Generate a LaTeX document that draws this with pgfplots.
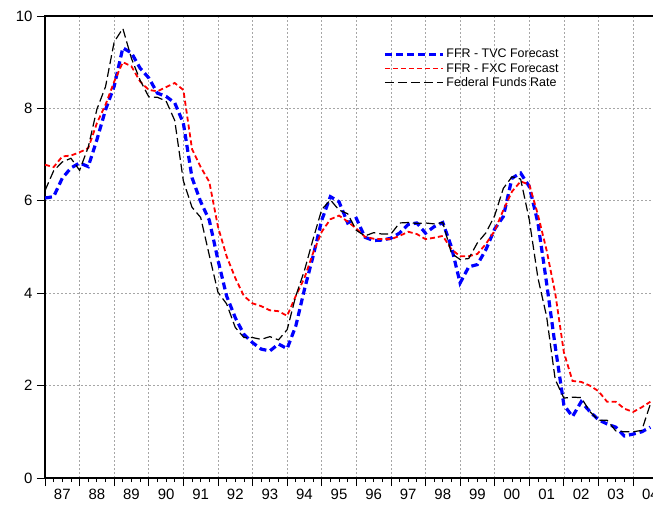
\documentclass[border=0pt]{standalone}
\usepackage{pgfplots}
\usepackage{pgfplotstable}
\pgfplotsset{compat=1.18}
\usepackage{fontspec}
\setmainfont{Liberation Sans}

\pgfplotstableread{
i tvc fxc ffr
0 6.06 6.78 6.22
1 6.09 6.73 6.65
2 6.49 6.96 6.84
3 6.71 6.98 6.92
4 6.82 7.05 6.66
5 6.74 7.14 7.16
6 7.32 7.68 7.98
7 7.97 8.08 8.47
8 8.48 8.58 9.44
9 9.31 9.00 9.73
10 9.20 8.91 9.08
11 8.87 8.58 8.61
12 8.66 8.40 8.25
13 8.33 8.37 8.24
14 8.26 8.46 8.16
15 8.12 8.55 7.74
16 7.68 8.40 6.43
17 6.50 7.12 5.86
18 5.98 6.73 5.64
19 5.58 6.41 4.82
20 4.72 5.44 4.02
21 3.94 4.80 3.77
22 3.47 4.33 3.26
23 3.11 3.94 3.04
24 2.93 3.78 3.04
25 2.79 3.72 3.00
26 2.75 3.63 3.06
27 2.90 3.61 2.99
28 2.80 3.51 3.21
29 3.29 3.94 3.94
30 4.08 4.33 4.49
31 4.80 4.87 5.17
32 5.58 5.33 5.81
33 6.09 5.60 6.02
34 5.98 5.68 5.80
35 5.52 5.55 5.72
36 5.62 5.40 5.36
37 5.21 5.22 5.24
38 5.14 5.18 5.31
39 5.15 5.17 5.28
40 5.19 5.17 5.28
41 5.30 5.24 5.52
42 5.49 5.33 5.53
43 5.52 5.28 5.51
44 5.30 5.17 5.52
45 5.44 5.20 5.50
46 5.53 5.24 5.53
47 5.00 4.95 4.86
48 4.22 4.80 4.73
49 4.57 4.80 4.75
50 4.62 4.85 5.09
51 4.95 5.07 5.31
52 5.39 5.35 5.68
53 5.66 5.80 6.27
54 6.49 6.20 6.52
55 6.60 6.42 6.47
56 6.31 6.35 5.59
57 5.52 5.70 4.33
58 4.22 4.93 3.50
59 2.85 4.00 2.13
60 1.58 2.72 1.73
61 1.33 2.10 1.75
62 1.65 2.08 1.74
63 1.44 2.00 1.44
64 1.26 1.88 1.25
65 1.17 1.65 1.25
66 1.10 1.65 1.02
67 0.91 1.50 1.00
68 0.95 1.43 1.00
69 1.00 1.53 1.03
70 1.10 1.65 1.60
}\data

\begin{document}
\begin{tikzpicture}
\begin{axis}[
  at={(0,0)}, anchor=south west,
  scale only axis,
  width=614bp, height=462bp,
  xmin=0, xmax=71, ymin=0, ymax=10,
  axis line style={line width=1.6bp},
  tick align=outside,
  tick pos=left,
  tick style={black, line width=0.8bp},
  xtick={0,4,...,68},
  xticklabels={87,88,89,90,91,92,93,94,95,96,97,98,99,00,01,02,03,04},
  minor x tick num=3,
  major tick length=8bp,
  minor tick length=4bp,
  ytick={0,2,...,10},
  ymajorgrids, xmajorgrids,
  major grid style={gray!70, line width=0.6bp, dash pattern=on 2bp off 2bp},
  tick label style={font=\fontsize{15}{17}\selectfont},
  /pgf/number format/assume math mode=true,
  xticklabel style={xshift=17.3bp, yshift=0bp},
  yticklabel style={xshift=-1bp},
  legend style={at={(0.549,0.935)}, anchor=north west, draw=none, fill=none,
    font=\fontsize{12.5}{14}\selectfont, row sep=0bp, inner sep=1bp},
  legend cell align=left,
  legend image code/.code={\draw[#1] (0bp,0bp) -- (58bp,0bp);},
]
\addplot[blue, line width=3.2bp, dash pattern=on 7bp off 4bp] table[x=i, y=tvc] {\data};
\addlegendentry{FFR - TVC Forecast}
\addplot[red, line width=1.8bp, dash pattern=on 5bp off 3bp] table[x=i, y=fxc] {\data};
\addlegendentry{FFR - FXC Forecast}
\addplot[black, line width=1.2bp, dash pattern=on 9bp off 4bp] table[x=i, y=ffr] {\data};
\addlegendentry{Federal Funds Rate}
\end{axis}
\pgfresetboundingbox
\useasboundingbox (-45bp,-34bp) rectangle (608bp,478bp);
\end{tikzpicture}
\end{document}
